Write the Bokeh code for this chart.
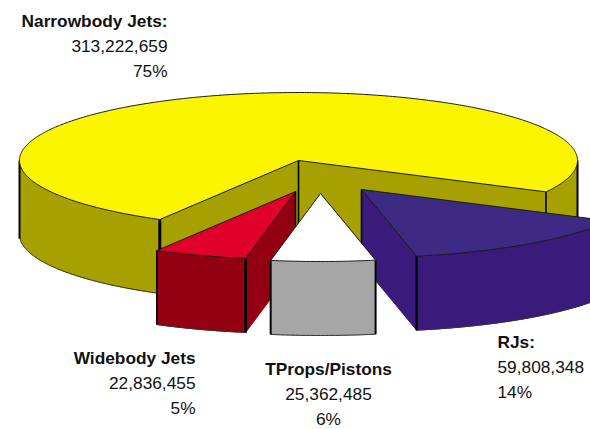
import numpy as np
from bokeh.plotting import figure
from bokeh.models import Range1d
from bokeh.core.properties import value
from bokeh.embed import file_html
from bokeh.resources import INLINE

# data
names = ["Narrowbody Jets:", "RJs:", "TProps/Pistons", "Widebody Jets"]
values = [313222659, 59808348, 25362485, 22836455]
pcts = ["75%", "14%", "6%", "5%"]

# style / layout
top_cols = ["#FBF500", "#3D2A82", "#FFFFFF", "#E00029"]
side_cols = ["#A6A000", "#3A1B7B", "#A6A6A6", "#930012"]
offsets = [(0, 0), (63, 29), (22, 33), (-3, 31)]
CX, CY, RX, RY, DEPTH = 298, 160, 279, 68, 74
START = 27.5
label_pos = [(167, 20, "right"), (497, 341, "left"), (328, 368, "center"), (195, 357, "right")]
LINE_H = 25
FONT = "Liberation Sans"
FS = "17.3px"

W, H = 590, 429
p = figure(width=W, height=H, output_backend="svg", toolbar_location=None,
           x_range=Range1d(0, W), y_range=Range1d(H, 0), min_border=0)
p.axis.visible = False
p.grid.visible = False
p.outline_line_color = None

vals = np.array(values, float)
sweeps = vals / vals.sum() * 360.0
ang = {"rj": (START, START + sweeps[1])}
ang["tp"] = (ang["rj"][1], ang["rj"][1] + sweeps[2])
ang["wb"] = (ang["tp"][1], ang["tp"][1] + sweeps[3])
ang["nb"] = (ang["wb"][1], START + 360.0)


def pt(t, o):
    r = np.radians(t)
    return CX + o[0] + RX * np.cos(r), CY + o[1] + RY * np.sin(r)


def arc(a, b, o):
    t = np.linspace(a, b, max(int(abs(b - a) * 2), 2))
    return pt(t, o)


def shape(xs, ys, col, lw=1.0, line="#1a1a1a"):
    p.patch(list(xs), list(ys), fill_color=col, line_color=line, line_width=lw)


def outer(a, b, o, col, lw=1.0):
    x, y = arc(a, b, o)
    shape(np.r_[x, x[::-1]], np.r_[y, y[::-1] + DEPTH], col, lw, col)
    p.line(list(x), list(y + DEPTH), line_color="#333333", line_width=1)


def radial(t, o, col):
    x0, y0 = CX + o[0], CY + o[1]
    x1, y1 = pt(t, o)
    shape([x0, x1, x1, x0], [y0, y1, y1 + DEPTH, y0 + DEPTH], col, 1.0, col)


def vert(t, o, lw, length=DEPTH, apex=False):
    x, y = (CX + o[0], CY + o[1]) if apex else pt(t, o)
    p.line([x, x], [y, y + length], line_color="black", line_width=lw)


def top(a, b, o, col):
    x, y = arc(a, b, o)
    shape(np.r_[CX + o[0], x], np.r_[CY + o[1], y], col, 1.0)


# Narrowbody
o = offsets[0]
a, b = ang["nb"]
outer(b - 360, 0, o, side_cols[0])
outer(a, 180, o, side_cols[0])
radial(b, o, side_cols[0])
radial(a, o, side_cols[0])
vert(a, o, 3)
vert(b, o, 1.6)
vert(0, o, 2)
vert(180, o, 2, length=DEPTH + 4)
vert(0, o, 1.6, apex=True)
top(a, b, o, top_cols[0])

# RJs
o = offsets[1]
a, b = ang["rj"]
outer(a, b, o, side_cols[1])
radial(b, o, side_cols[1])
vert(b, o, 2.2)
vert(0, o, 1.6, apex=True)
top(a, b, o, top_cols[1])

# Widebody
o = offsets[3]
a, b = ang["wb"]
outer(a, b, o, side_cols[3])
radial(a, o, side_cols[3])
vert(a, o, 2.8)
vert(b, o, 1.6)
vert(0, o, 1.6, apex=True)
top(a, b, o, top_cols[3])

# TProps
o = offsets[2]
a, b = ang["tp"]
outer(a, b, o, side_cols[2])
vert(a, o, 2)
vert(b, o, 2)
top(a, b, o, top_cols[2])

# labels
for i, (lx, ly, al) in enumerate(label_pos):
    lines = [names[i], f"{values[i]:,}", pcts[i]]
    for j, s in enumerate(lines):
        p.text([lx], [ly + j * LINE_H], text=[s], text_align=al, text_baseline="middle",
               text_font=value(FONT), text_font_size=FS, text_color="#111111",
               text_font_style="bold" if j == 0 else "normal")

open("out.html", "w").write(file_html(p, INLINE))
